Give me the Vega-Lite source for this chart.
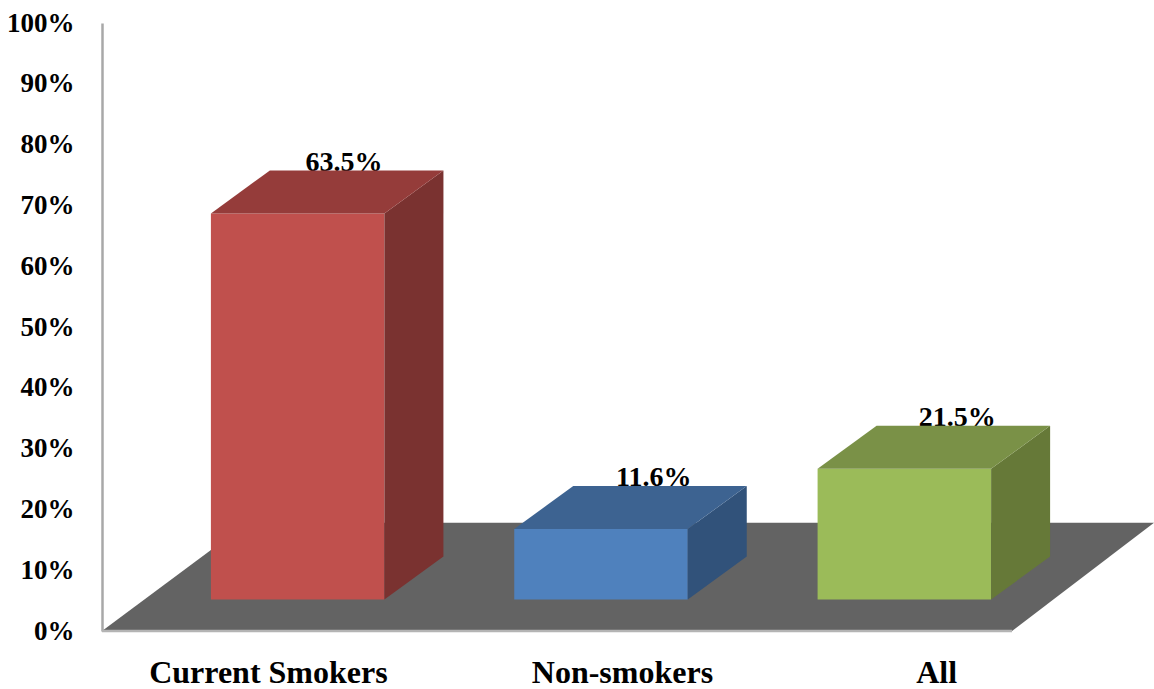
{
  "$schema": "https://vega.github.io/schema/vega-lite/v6.json",
  "width": 1052,
  "height": 608,
  "autosize": {"type": "none"},
  "padding": {"left": 102, "top": 23, "right": 0, "bottom": 58},
  "background": "white",
  "config": {"view": {"stroke": null}, "axis": {"title": null, "grid": false}},
  "datasets": {
    "groups": [
      {"category": "Current Smokers", "slot": 0, "value": 63.5},
      {"category": "Non-smokers", "slot": 1, "value": 11.6},
      {"category": "All", "slot": 2, "value": 21.5}
    ],
    "floor": [
      {"level": 0, "from": 0, "to": 3},
      {"level": 17.8, "from": 0.48, "to": 3.468}
    ]
  },
  "layer": [
    {
      "data": {"name": "floor"},
      "mark": {"type": "area", "orient": "horizontal", "color": "#636363"},
      "encoding": {
        "y": {
          "field": "level", "type": "quantitative", "title": null,
          "scale": {"domain": [0, 100], "nice": false},
          "axis": {
            "title": null, "grid": false, "ticks": false,
            "values": [0, 10, 20, 30, 40, 50, 60, 70, 80, 90, 100],
            "labelExpr": "datum.value + '%'",
            "domainColor": "#a8a8a8", "domainWidth": 2.5,
            "labelFont": "Liberation Serif", "labelFontWeight": "bold",
            "labelFontSize": 27, "labelColor": "#000000", "labelPadding": 28
          }
        },
        "x": {
          "field": "from", "type": "quantitative", "title": null,
          "scale": {"domain": [0, 3.468], "nice": false, "zero": false},
          "axis": {
            "title": null, "grid": false, "ticks": false, "domain": false,
            "values": [0.547, 1.714, 2.75],
            "labelExpr": "datum.value < 1 ? 'Current Smokers' : datum.value < 2 ? 'Non-smokers' : 'All'",
            "labelFont": "Liberation Serif", "labelFontWeight": "bold",
            "labelFontSize": 32, "labelColor": "#000000", "labelPadding": 26,
            "labelOverlap": false, "labelFlush": false, "labelLimit": 600
          }
        },
        "x2": {"field": "to"}
      }
    },
    {
      "data": {"values": [{"start": 0, "end": 3, "level": 0}]},
      "mark": {"type": "rule", "color": "#b4b4b4", "strokeWidth": 2.5},
      "encoding": {
        "x": {"field": "start", "type": "quantitative", "title": null, "scale": {"domain": [0, 3.468], "nice": false, "zero": false}},
        "x2": {"field": "end"},
        "y": {"field": "level", "type": "quantitative", "title": null, "scale": {"domain": [0, 100], "nice": false}}
      }
    },
    {
      "data": {"name": "groups"},
      "transform": [
        {"calculate": "format(datum.value, '.1f') + '%'", "as": "label"},
        {"calculate": "datum.slot + 0.359 + 0.286 + (datum.slot === 0 ? 0.153 : 0.174)", "as": "labelX"}
      ],
      "mark": {
        "type": "text", "font": "Liberation Serif", "fontWeight": "bold",
        "fontSize": 28, "color": "#000000", "baseline": "alphabetic", "align": "center", "dy": -74
      },
      "encoding": {
        "x": {"field": "labelX", "type": "quantitative", "title": null, "scale": {"domain": [0, 3.468], "nice": false, "zero": false}},
        "y": {"field": "value", "type": "quantitative", "title": null, "scale": {"domain": [0, 100], "nice": false}},
        "text": {"field": "label"}
      }
    },
    {
      "data": {"name": "groups"},
      "transform": [
        {"calculate": "datum.slot + 0.359", "as": "left"},
        {"calculate": "datum.slot + 0.931", "as": "right"}
      ],
      "mark": {"type": "rect", "yOffset": -31.5, "y2Offset": -31.5},
      "encoding": {
        "x": {"field": "left", "type": "quantitative", "title": null, "scale": {"domain": [0, 3.468], "nice": false, "zero": false}},
        "x2": {"field": "right"},
        "y": {"field": "value", "type": "quantitative", "title": null, "scale": {"domain": [0, 100], "nice": false}},
        "y2": {"datum": 0},
        "fill": {
          "field": "category", "type": "nominal", "legend": null,
          "scale": {"domain": ["Current Smokers", "Non-smokers", "All"], "range": ["#C0504D", "#4F81BD", "#9BBB59"]}
        }
      }
    },
    {
      "data": {"name": "groups"},
      "transform": [
        {"calculate": "0", "as": "near"},
        {"calculate": "1", "as": "far"},
        {"fold": ["near", "far"], "as": ["edge", "depth"]},
        {"calculate": "datum.slot + 0.931 + datum.depth * 0.1945", "as": "px"},
        {"calculate": "5.18 + datum.depth * 7.07", "as": "base"},
        {"calculate": "datum.base + datum.value", "as": "crest"}
      ],
      "mark": {"type": "area", "line": false},
      "encoding": {
        "x": {"field": "px", "type": "quantitative", "title": null, "scale": {"domain": [0, 3.468], "nice": false, "zero": false}},
        "y": {"field": "crest", "type": "quantitative", "title": null, "scale": {"domain": [0, 100], "nice": false}},
        "y2": {"field": "base"},
        "fill": {
          "field": "category", "type": "nominal", "legend": null,
          "scale": {"domain": ["Current Smokers", "Non-smokers", "All"], "range": ["#7A3230", "#31527A", "#667938"]}
        }
      }
    },
    {
      "data": {"name": "groups"},
      "transform": [
        {"calculate": "0", "as": "near"},
        {"calculate": "1", "as": "far"},
        {"fold": ["near", "far"], "as": ["edge", "depth"]},
        {"calculate": "datum.slot + 0.359 + datum.depth * 0.1945", "as": "leftEdge"},
        {"calculate": "datum.slot + 0.931 + datum.depth * 0.1945", "as": "rightEdge"},
        {"calculate": "5.18 + datum.depth * 7.07 + datum.value", "as": "crest"}
      ],
      "mark": {"type": "area", "orient": "horizontal"},
      "encoding": {
        "y": {"field": "crest", "type": "quantitative", "title": null, "scale": {"domain": [0, 100], "nice": false}},
        "x": {"field": "leftEdge", "type": "quantitative", "title": null, "scale": {"domain": [0, 3.468], "nice": false, "zero": false}},
        "x2": {"field": "rightEdge"},
        "fill": {
          "field": "category", "type": "nominal", "legend": null,
          "scale": {"domain": ["Current Smokers", "Non-smokers", "All"], "range": ["#953C3A", "#3D6391", "#7A9147"]}
        }
      }
    }
  ],
  "resolve": {"scale": {"fill": "independent"}}
}
